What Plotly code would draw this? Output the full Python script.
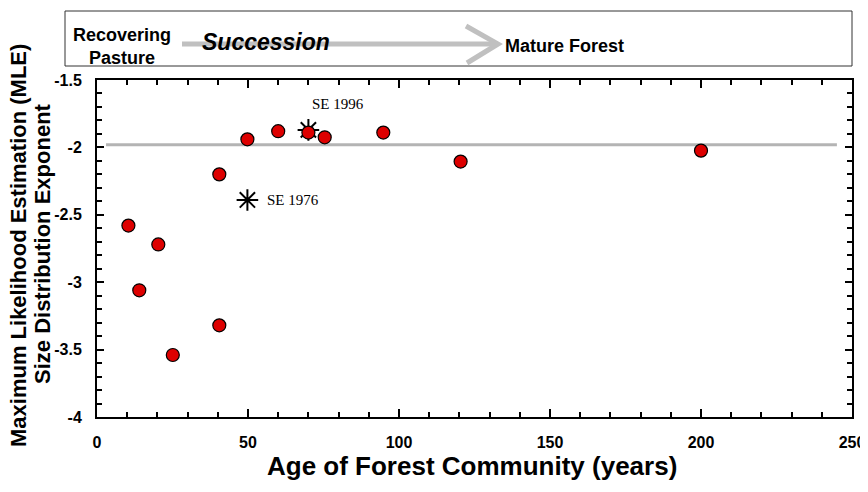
import plotly.graph_objects as go

# ---- data ----
forest_age = [10.4, 14.0, 20.3, 25.1, 40.5, 40.5, 49.8, 60.0, 70.0, 75.4, 94.8, 120.4, 200.0]
mle_exponent = [-2.58, -3.06, -2.72, -3.54, -2.20, -3.32, -1.94, -1.88, -1.89, -1.925, -1.89, -2.105, -2.024]

se_age = [49.8, 70.0]
se_exponent = [-2.39, -1.87]
se_labels = ["SE 1976", "SE 1996"]

mean_line_x = [3, 245]
mean_line_y = [-1.98, -1.98]

x_ticks = [0, 50, 100, 150, 200, 250]
y_ticks = [-4, -3.5, -3, -2.5, -2, -1.5]
y_tick_labels = ["-4", "-3.5", "-3", "-2.5", "-2", "-1.5"]

# page has an 8px body margin; figure fills the rest of the 868x492 window
OFF = 8
W, H = 860, 484
ML, MT = 89, 72
PW, PH = 755, 337
MR, MB = W - ML - PW, H - MT - PH


def px(x_abs):
    return (x_abs - OFF - ML) / PW


def py(y_abs):
    return 1 - (y_abs - OFF - MT) / PH


BOLD = "Arial, Liberation Sans, sans-serif"
SERIF = "Times New Roman, Liberation Serif, serif"

fig = go.Figure()

fig.add_trace(go.Scatter(
    x=mean_line_x, y=mean_line_y, mode="lines",
    line=dict(color="#b4b4b4", width=3), hoverinfo="skip", showlegend=False))

fig.add_trace(go.Scatter(
    x=se_age, y=se_exponent, mode="markers",
    marker=dict(symbol="asterisk-open", size=18, color="black",
                line=dict(color="black", width=2)),
    showlegend=False))

fig.add_trace(go.Scatter(
    x=forest_age, y=mle_exponent, mode="markers",
    marker=dict(symbol="circle", size=13, color="#dd0000",
                line=dict(color="black", width=1.2)),
    showlegend=False))

# SE labels
fig.add_annotation(x=se_age[0], y=se_exponent[0], text=se_labels[0], showarrow=False,
                   xanchor="left", yanchor="middle", xshift=18,
                   font=dict(family=SERIF, size=15, color="black"))
fig.add_annotation(x=se_age[1], y=se_exponent[1], text=se_labels[1], showarrow=False,
                   xanchor="left", yanchor="middle", xshift=2, yshift=26,
                   font=dict(family=SERIF, size=15, color="black"))

# top succession box
fig.add_shape(type="rect", xref="paper", yref="paper",
              x0=px(65), x1=px(852), y0=py(66), y1=py(11),
              line=dict(color="#333333", width=1))
fig.add_shape(type="line", xref="paper", yref="paper",
              x0=px(182), x1=px(496), y0=py(44), y1=py(44),
              line=dict(color="#c0c0c0", width=5))
fig.add_shape(type="path", xref="paper", yref="paper",
              path=f"M {px(466)} {py(26)} L {px(498)} {py(44)} L {px(467)} {py(63)}",
              line=dict(color="#c0c0c0", width=5))

fig.add_annotation(xref="paper", yref="paper", x=px(122), y=py(46),
                   text="<b>Recovering<br>Pasture</b>", showarrow=False,
                   xanchor="center", yanchor="middle",
                   font=dict(family=BOLD, size=18, color="black"))
fig.add_annotation(xref="paper", yref="paper", x=px(266), y=py(42),
                   text="<b><i>Succession</i></b>", showarrow=False,
                   xanchor="center", yanchor="middle",
                   font=dict(family=BOLD, size=23, color="black"))
fig.add_annotation(xref="paper", yref="paper", x=px(503), y=py(46),
                   text="<b>Mature Forest</b>", showarrow=False,
                   xanchor="left", yanchor="middle",
                   font=dict(family=BOLD, size=18, color="black"))

# axis titles
fig.add_annotation(xref="paper", yref="paper", x=px(472), y=py(466),
                   text="<b>Age of Forest Community (years)</b>", showarrow=False,
                   xanchor="center", yanchor="middle",
                   font=dict(family=BOLD, size=26, color="black"))
fig.add_annotation(xref="paper", yref="paper", x=px(18), y=py(246),
                   text="<b>Maximum Likelihood Estimation (MLE)</b>",
                   showarrow=False, textangle=-90,
                   xanchor="center", yanchor="middle",
                   font=dict(family=BOLD, size=22, color="black"))
fig.add_annotation(xref="paper", yref="paper", x=px(43), y=py(244),
                   text="<b>Size Distribution Exponent</b>",
                   showarrow=False, textangle=-90,
                   xanchor="center", yanchor="middle",
                   font=dict(family=BOLD, size=22, color="black"))

axis_common = dict(
    showgrid=False, zeroline=False, showline=True, linecolor="black", linewidth=2,
    mirror="ticks", ticks="inside", tickcolor="black", tickwidth=2,
    tickfont=dict(family=BOLD, size=16, color="black"),
)

fig.update_xaxes(
    range=[0, 250], tickvals=x_ticks, ticklen=8, ticklabelstandoff=10,
    ticktext=[f"<b>{v}</b>" for v in x_ticks],
    minor=dict(ticks="inside", dtick=10, ticklen=5, tickcolor="black", tickwidth=1.5),
    **axis_common)
fig.update_yaxes(
    range=[-4, -1.5], tickvals=y_ticks, ticklen=7, ticklabelstandoff=10,
    ticktext=[f"<b>{t}</b>" for t in y_tick_labels],
    minor=dict(ticks="inside", dtick=0.1, ticklen=5, tickcolor="black", tickwidth=1.5),
    **axis_common)

fig.update_layout(
    width=W, height=H,
    margin=dict(l=ML, r=MR, t=MT, b=MB, autoexpand=False),
    plot_bgcolor="white", paper_bgcolor="white",
)

fig.write_html("out.html")
